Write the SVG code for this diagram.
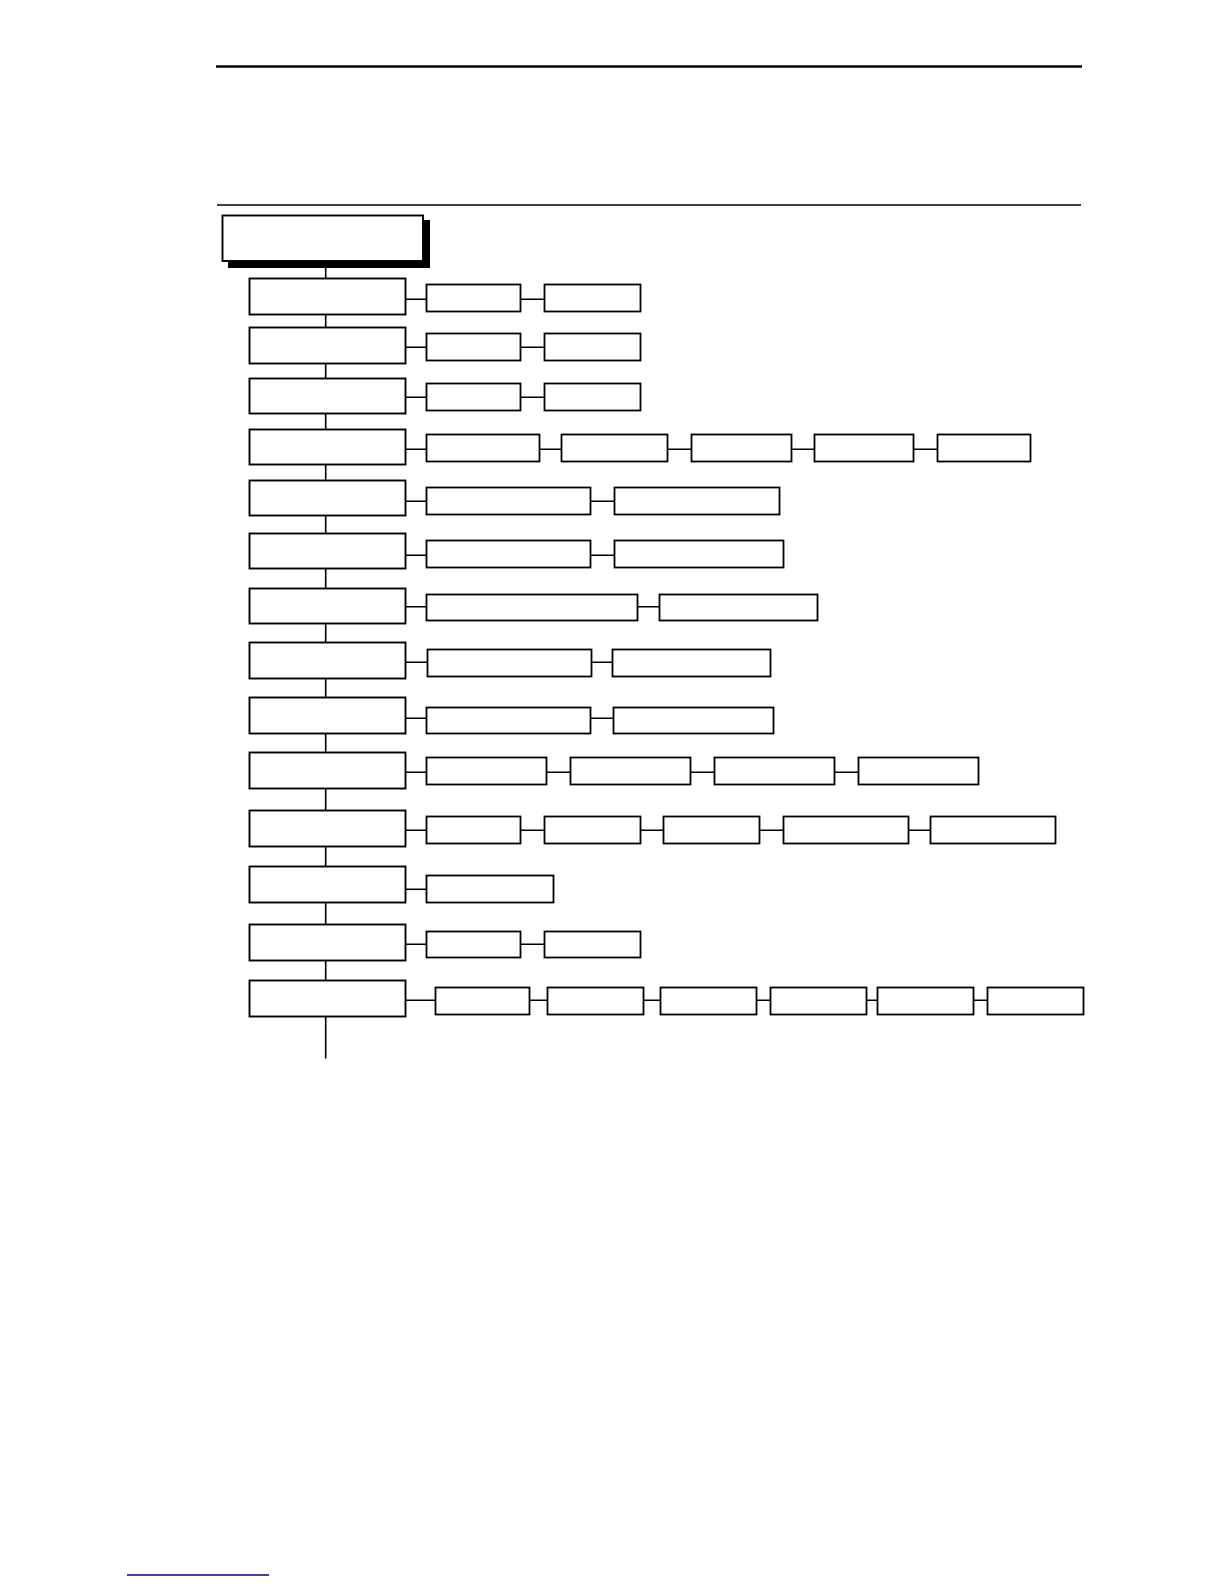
<svg xmlns="http://www.w3.org/2000/svg" width="1224" height="1584" viewBox="0 0 1224 1584">
<style>
.b{fill:#fff;stroke:#000;stroke-width:1.8}
.m{fill:#fff;stroke:#000;stroke-width:1.9}
.c{stroke:#000;stroke-width:1.6;fill:none}
</style>
<rect width="1224" height="1584" fill="#fff"/>
<g id="header">
<line x1="216" y1="66.5" x2="1082" y2="66.5" stroke="#000" stroke-width="2.6"/>
<line x1="217" y1="205" x2="1081" y2="205" stroke="#000" stroke-width="1.6"/>
</g>
<g id="connectors">
<line class="c" x1="325.7" y1="261" x2="325.7" y2="1058.5"/>
<line class="c" x1="405" y1="299.3" x2="545" y2="299.3"/>
<line class="c" x1="405" y1="347.3" x2="545" y2="347.3"/>
<line class="c" x1="405" y1="397.3" x2="545" y2="397.3"/>
<line class="c" x1="405" y1="449.3" x2="938" y2="449.3"/>
<line class="c" x1="405" y1="501.3" x2="615" y2="501.3"/>
<line class="c" x1="405" y1="555.3" x2="615" y2="555.3"/>
<line class="c" x1="405" y1="606.7" x2="660" y2="606.7"/>
<line class="c" x1="405" y1="662.3" x2="613" y2="662.3"/>
<line class="c" x1="405" y1="718.3" x2="614" y2="718.3"/>
<line class="c" x1="405" y1="772.3" x2="859" y2="772.3"/>
<line class="c" x1="405" y1="830.3" x2="931" y2="830.3"/>
<line class="c" x1="405" y1="889.3" x2="427" y2="889.3"/>
<line class="c" x1="405" y1="944.3" x2="545" y2="944.3"/>
<line class="c" x1="405" y1="1000.3" x2="988" y2="1000.3"/>
</g>
<g id="title">
<rect x="228" y="220" width="202" height="48" fill="#000"/>
<rect x="222.5" y="215.5" width="200.5" height="45.5" class="m"/>
</g>
<g id="row1">
<rect class="m" x="249.5" y="278.5" width="156" height="36"/>
<rect class="b" x="426.5" y="284.5" width="94" height="27"/>
<rect class="b" x="544.5" y="284.5" width="96" height="27"/>
</g>
<g id="row2">
<rect class="m" x="249.5" y="327.5" width="156" height="36"/>
<rect class="b" x="426.5" y="333.5" width="94" height="27"/>
<rect class="b" x="544.5" y="333.5" width="96" height="27"/>
</g>
<g id="row3">
<rect class="m" x="249.5" y="378.5" width="156" height="35"/>
<rect class="b" x="426.5" y="383.5" width="94" height="27"/>
<rect class="b" x="544.5" y="383.5" width="96" height="27"/>
</g>
<g id="row4">
<rect class="m" x="249.5" y="429.5" width="156" height="35"/>
<rect class="b" x="426.5" y="434.5" width="113" height="27"/>
<rect class="b" x="561.5" y="434.5" width="106" height="27"/>
<rect class="b" x="691.5" y="434.5" width="100" height="27"/>
<rect class="b" x="814.5" y="434.5" width="99" height="27"/>
<rect class="b" x="937.5" y="434.5" width="93" height="27"/>
</g>
<g id="row5">
<rect class="m" x="249.5" y="480.5" width="156" height="35"/>
<rect class="b" x="426.5" y="487.5" width="164" height="27"/>
<rect class="b" x="614.5" y="487.5" width="165" height="27"/>
</g>
<g id="row6">
<rect class="m" x="249.5" y="533.5" width="156" height="35"/>
<rect class="b" x="426.5" y="540.5" width="164" height="27"/>
<rect class="b" x="614.5" y="540.5" width="169" height="27"/>
</g>
<g id="row7">
<rect class="m" x="249.5" y="588.5" width="156" height="35"/>
<rect class="b" x="426.5" y="594.5" width="211" height="26"/>
<rect class="b" x="659.5" y="594.5" width="158" height="26"/>
</g>
<g id="row8">
<rect class="m" x="249.5" y="642.5" width="156" height="36"/>
<rect class="b" x="427.5" y="649.5" width="164" height="27"/>
<rect class="b" x="612.5" y="649.5" width="158" height="27"/>
</g>
<g id="row9">
<rect class="m" x="249.5" y="697.5" width="156" height="36"/>
<rect class="b" x="426.5" y="707.5" width="164" height="26"/>
<rect class="b" x="613.5" y="707.5" width="160" height="26"/>
</g>
<g id="row10">
<rect class="m" x="249.5" y="752.5" width="156" height="36"/>
<rect class="b" x="426.5" y="757.5" width="120" height="27"/>
<rect class="b" x="570.5" y="757.5" width="120" height="27"/>
<rect class="b" x="714.5" y="757.5" width="120" height="27"/>
<rect class="b" x="858.5" y="757.5" width="120" height="27"/>
</g>
<g id="row11">
<rect class="m" x="249.5" y="810.5" width="156" height="36"/>
<rect class="b" x="426.5" y="816.5" width="94" height="27"/>
<rect class="b" x="544.5" y="816.5" width="96" height="27"/>
<rect class="b" x="663.5" y="816.5" width="96" height="27"/>
<rect class="b" x="783.5" y="816.5" width="125" height="27"/>
<rect class="b" x="930.5" y="816.5" width="125" height="27"/>
</g>
<g id="row12">
<rect class="m" x="249.5" y="866.5" width="156" height="36"/>
<rect class="b" x="426.5" y="875.5" width="127" height="27"/>
</g>
<g id="row13">
<rect class="m" x="249.5" y="924.5" width="156" height="36"/>
<rect class="b" x="426.5" y="931.5" width="94" height="26"/>
<rect class="b" x="544.5" y="931.5" width="96" height="26"/>
</g>
<g id="row14">
<rect class="m" x="249.5" y="980.5" width="156" height="36"/>
<rect class="b" x="435.5" y="987.5" width="94" height="27"/>
<rect class="b" x="547.5" y="987.5" width="96" height="27"/>
<rect class="b" x="660.5" y="987.5" width="96" height="27"/>
<rect class="b" x="770.5" y="987.5" width="96" height="27"/>
<rect class="b" x="877.5" y="987.5" width="96" height="27"/>
<rect class="b" x="987.5" y="987.5" width="96" height="27"/>
</g>
<g id="footer">
<line x1="127" y1="1575" x2="269" y2="1575" stroke="#00008b" stroke-width="1.6"/>
</g>
</svg>
